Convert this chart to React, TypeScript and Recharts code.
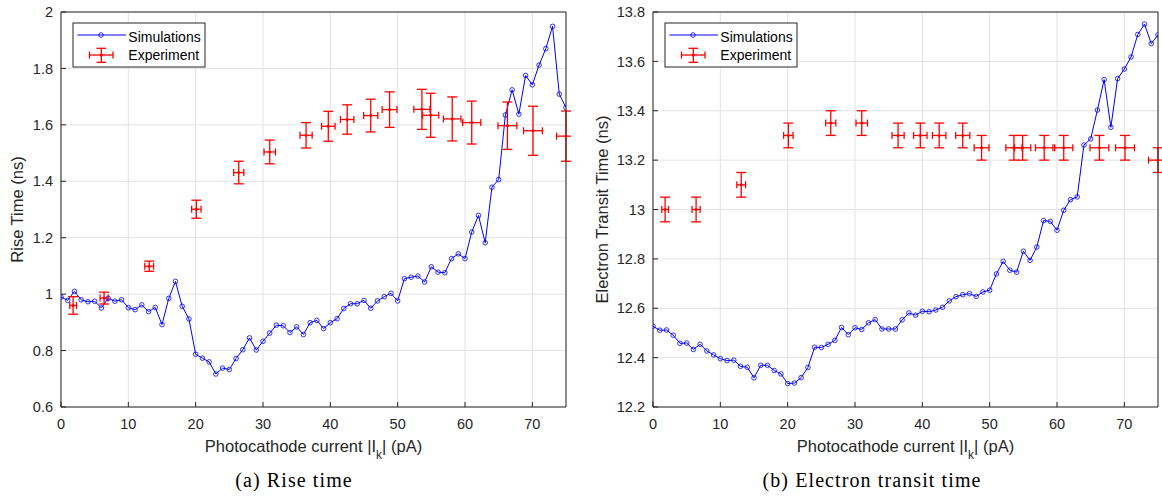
import React from 'react';
import { ComposedChart, Line, Scatter, ErrorBar, XAxis, YAxis, CartesianGrid } from 'recharts';

// photocathode current |Ik| (pA) for the simulation sweep
const simCurrent = [
  0, 1, 2, 3, 4, 5, 6, 7, 8, 9, 10, 11, 12, 13, 14, 15, 16, 17, 18, 19,
  20, 21, 22, 23, 24, 25, 26, 27, 28, 29, 30, 31, 32, 33, 34, 35, 36, 37, 38, 39,
  40, 41, 42, 43, 44, 45, 46, 47, 48, 49, 50, 51, 52, 53, 54, 55, 56, 57, 58, 59,
  60, 61, 62, 63, 64, 65, 66, 67, 68, 69, 70, 71, 72, 73, 74, 75,
];

const riseSim = [
  0.99, 0.978, 1.01, 0.98, 0.973, 0.975, 0.951, 0.985, 0.975, 0.98,
  0.952, 0.945, 0.962, 0.938, 0.953, 0.892, 0.985, 1.045, 0.957, 0.912,
  0.787, 0.773, 0.76, 0.717, 0.738, 0.733, 0.772, 0.803, 0.845, 0.802,
  0.833, 0.862, 0.89, 0.888, 0.864, 0.884, 0.857, 0.899, 0.907, 0.878,
  0.899, 0.913, 0.949, 0.966, 0.966, 0.978, 0.95, 0.976, 0.991, 1.003,
  0.976, 1.055, 1.06, 1.064, 1.043, 1.097, 1.078, 1.076, 1.126, 1.143,
  1.126, 1.22, 1.279, 1.182, 1.379, 1.406, 1.635, 1.724, 1.638, 1.775,
  1.742, 1.812, 1.87, 1.949, 1.709, 1.661,
];

const transitSim = [
  12.527, 12.511, 12.512, 12.491, 12.458, 12.459, 12.433, 12.454, 12.427, 12.411,
  12.396, 12.388, 12.39, 12.365, 12.361, 12.318, 12.369, 12.369, 12.348, 12.334,
  12.295, 12.297, 12.319, 12.36, 12.442, 12.441, 12.454, 12.47, 12.522, 12.493,
  12.521, 12.514, 12.541, 12.554, 12.516, 12.516, 12.516, 12.553, 12.581, 12.572,
  12.588, 12.586, 12.593, 12.604, 12.63, 12.647, 12.655, 12.659, 12.648, 12.666,
  12.673, 12.739, 12.79, 12.754, 12.746, 12.831, 12.794, 12.848, 12.955, 12.952,
  12.916, 12.997, 13.04, 13.051, 13.261, 13.286, 13.403, 13.526, 13.333, 13.53,
  13.569, 13.618, 13.709, 13.751, 13.672, 13.707,
];

// measured points
const expCurrent = [1.8, 6.4, 13.1, 20.1, 26.4, 31, 36.4, 39.7, 42.5, 46, 48.8, 53.6, 54.9, 58.1, 61, 66.3, 70.1, 75];
const expCurrentErr = [0.5, 0.6, 0.65, 0.7, 0.75, 0.85, 0.9, 1.0, 1.0, 1.05, 1.1, 1.2, 1.2, 1.3, 1.35, 1.4, 1.4, 1.4];

const riseExp = [0.96, 0.986, 1.099, 1.301, 1.431, 1.504, 1.563, 1.595, 1.619, 1.633, 1.654, 1.655, 1.634, 1.621, 1.608, 1.597, 1.579, 1.56];
const riseExpErr = [0.031, 0.021, 0.018, 0.032, 0.04, 0.042, 0.045, 0.053, 0.052, 0.058, 0.063, 0.071, 0.078, 0.078, 0.076, 0.084, 0.087, 0.089];

const transitExp = [13, 13, 13.1, 13.3, 13.35, 13.35, 13.3, 13.3, 13.3, 13.3, 13.25, 13.25, 13.25, 13.25, 13.25, 13.25, 13.25, 13.2];
const transitExpErr = [0.05, 0.05, 0.05, 0.05, 0.05, 0.05, 0.05, 0.05, 0.05, 0.05, 0.05, 0.05, 0.05, 0.05, 0.05, 0.05, 0.05, 0.05];

const xTicks = [0, 10, 20, 30, 40, 50, 60, 70];
const riseTicks = [0.6, 0.8, 1, 1.2, 1.4, 1.6, 1.8, 2];
const transitTicks = [12.2, 12.4, 12.6, 12.8, 13, 13.2, 13.4, 13.6, 13.8];

const AXIS = '#262626';
const SANS = '"Liberation Sans", Arial, Helvetica, sans-serif';
const SERIF = '"Liberation Serif", "Times New Roman", serif';
const BLUE = '#0000ff';
const RED = '#ff0000';

const fmt = (v: number) => String(+v.toFixed(1));

const simRows = (ys: number[]) => simCurrent.map((x, i) => ({ x, y: ys[i] }));
const expRows = (ys: number[], errs: number[]) =>
  expCurrent.map((x, i) => ({ x, y: ys[i], ex: expCurrentErr[i], ey: errs[i] }));

const ExpDot = (p: any) => <circle cx={p.cx} cy={p.cy} r={1.5} fill={RED} />;

const Panel = ({ left, sim, exp, yDomain, yTicks }: any) => (
  <div style={{ position: 'absolute', left, top: 0 }}>
    <ComposedChart width={571} height={437} margin={{ top: 11, right: 4, bottom: 0, left: 21 }}>
      <CartesianGrid stroke="#e2e2e2" />
      <XAxis
        dataKey="x"
        type="number"
        domain={[0, 75]}
        ticks={xTicks}
        interval={0}
        allowDataOverflow
        height={30}
        stroke={AXIS}
        tickSize={-5}
        tickMargin={17}
        tick={{ fill: AXIS, fontSize: 14.5, fontFamily: SANS }}
      />
      <XAxis
        xAxisId="top"
        orientation="top"
        dataKey="x"
        type="number"
        domain={[0, 75]}
        ticks={xTicks}
        interval={0}
        allowDataOverflow
        height={1}
        stroke={AXIS}
        tickSize={-5}
        tick={false}
      />
      <YAxis
        type="number"
        domain={yDomain}
        ticks={yTicks}
        interval={0}
        allowDataOverflow
        width={40}
        stroke={AXIS}
        tickSize={-5}
        tickMargin={13}
        tickFormatter={fmt}
        tick={{ fill: AXIS, fontSize: 14.5, fontFamily: SANS }}
      />
      <YAxis
        yAxisId="right"
        orientation="right"
        type="number"
        domain={yDomain}
        ticks={yTicks}
        interval={0}
        allowDataOverflow
        width={1}
        stroke={AXIS}
        tickSize={-5}
        tick={false}
      />
      <Line
        data={sim}
        dataKey="y"
        stroke={BLUE}
        strokeWidth={1}
        dot={{ r: 2.3, stroke: BLUE, strokeWidth: 0.8, fill: 'none' }}
        activeDot={false}
        isAnimationActive={false}
      />
      <Scatter data={exp} dataKey="y" fill={RED} shape={ExpDot} isAnimationActive={false}>
        <ErrorBar dataKey="ey" direction="y" width={5} stroke={RED} strokeWidth={1.3} isAnimationActive={false} />
        <ErrorBar dataKey="ex" direction="x" width={3.5} stroke={RED} strokeWidth={1.3} isAnimationActive={false} />
      </Scatter>
    </ComposedChart>
  </div>
);

const LegendBox = ({ x, y }: { x: number; y: number }) => (
  <g transform={`translate(${x},${y})`}>
    <rect x={0} y={0} width={132} height={44} fill="#fff" stroke={AXIS} strokeWidth={1} />
    <line x1={4.5} y1={12} x2={53} y2={12} stroke={BLUE} strokeWidth={1} />
    <circle cx={28} cy={12} r={2.3} fill="none" stroke={BLUE} strokeWidth={0.8} />
    <g stroke={RED} strokeWidth={1.3}>
      <line x1={16.5} y1={32} x2={40} y2={32} />
      <line x1={16.5} y1={28.5} x2={16.5} y2={35.5} />
      <line x1={40} y1={28.5} x2={40} y2={35.5} />
      <line x1={28.3} y1={25.3} x2={28.3} y2={39.3} />
      <line x1={23.5} y1={25.3} x2={33} y2={25.3} />
      <line x1={23.5} y1={39.3} x2={33} y2={39.3} />
    </g>
    <circle cx={28.3} cy={32} r={1.5} fill={RED} />
    <text x={55.3} y={18.7} fontSize={14} fontFamily={SANS} fill="#000">Simulations</text>
    <text x={55.3} y={37} fontSize={14} fontFamily={SANS} fill="#000">Experiment</text>
  </g>
);

const XTitle = ({ cx }: { cx: number }) => (
  <text x={cx} y={452} textAnchor="middle" fontSize={16.5} fontFamily={SANS} fill={AXIS}>
    Photocathode current |I<tspan dy={7} fontSize={12}>k</tspan><tspan dy={-7}>| (pA)</tspan>
  </text>
);

const YTitle = ({ x, label }: { x: number; label: string }) => (
  <text
    transform={`translate(${x},209.5) rotate(-90)`}
    textAnchor="middle"
    fontSize={16.5}
    fontFamily={SANS}
    fill={AXIS}
  >
    {label}
  </text>
);

export default function App() {
  return (
    <div style={{ position: 'absolute', left: 0, top: 0, width: 1162, height: 498, background: '#fff' }}>
      <Panel left={0} sim={simRows(riseSim)} exp={expRows(riseExp, riseExpErr)} yDomain={[0.6, 2]} yTicks={riseTicks} />
      <Panel
        left={592}
        sim={simRows(transitSim)}
        exp={expRows(transitExp, transitExpErr)}
        yDomain={[12.2, 13.8]}
        yTicks={transitTicks}
      />
      <svg
        width={1162}
        height={498}
        style={{ position: 'absolute', left: 0, top: 0, pointerEvents: 'none' }}
      >
        <LegendBox x={73} y={23} />
        <LegendBox x={665} y={23} />
        <XTitle cx={313.5} />
        <XTitle cx={905.5} />
        <YTitle x={23.3} label="Rise Time (ns)" />
        <YTitle x={608} label="Electron Transit Time (ns)" />
        <text x={294} y={487} textAnchor="middle" fontSize={20} letterSpacing={1.1} fontFamily={SERIF} fill="#000">
          (a) Rise time
        </text>
        <text x={872} y={487} textAnchor="middle" fontSize={20} letterSpacing={1.1} fontFamily={SERIF} fill="#000">
          (b) Electron transit time
        </text>
      </svg>
    </div>
  );
}
